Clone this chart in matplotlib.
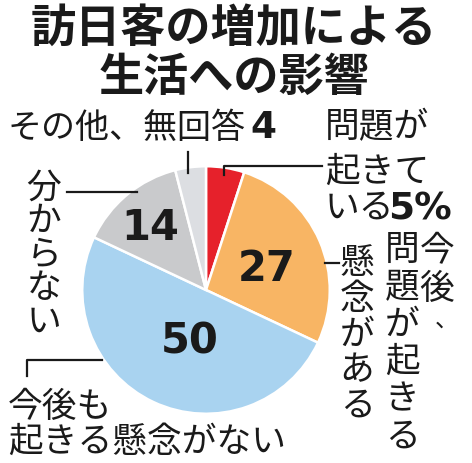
import matplotlib.pyplot as plt
import numpy as np

plt.rcParams['font.family'] = ['Noto Sans CJK JP', 'DejaVu Sans']

# data, clockwise from 12 o'clock
labels = ['問題が起きている', '今後、問題が起きる懸念がある', '今後も起きる懸念がない',
          '分からない', 'その他、無回答']
values = [5, 27, 50, 14, 4]
colors = ['#e6212b', '#f8b564', '#a9d3f0', '#c9cacc', '#dcdee2']

W, H = 472, 463
fig = plt.figure(figsize=(W / 100, H / 100), dpi=100)

# pie centre / radius in pixels (from top-left)
cx, cy, r = 206, 290, 125


def px(x, y):
    # pixel coords (origin top-left) -> figure fraction
    return x / W, 1 - y / H


def txt(x, y, s, size=25, weight='normal', **kw):
    fig.text(*px(x, y), s, fontsize=size, fontweight=weight,
             ha=kw.pop('ha', 'center'), va=kw.pop('va', 'center'),
             color=kw.pop('color', '#1a1a1a'), **kw)


def vtxt(x, y0, s, step, size=25):
    # vertical writing, one char at a time
    for i, ch in enumerate(s):
        if ch == '、':
            # vertical comma sits in the upper right of its cell
            txt(x + 10, y0 + i * step - 6, ch, 17, va='center')
        else:
            txt(x, y0 + i * step, ch, size)


def line(xs, ys):
    fx = [x / W for x in xs]
    fy = [1 - y / H for y in ys]
    fig.add_artist(plt.Line2D(fx, fy, color='#1a1a1a', lw=1.6,
                              transform=fig.transFigure))


ax = fig.add_axes([(cx - r) / W, (H - cy - r) / H, 2 * r / W, 2 * r / H])
ax.pie(values, colors=colors, startangle=90, counterclock=False,
       wedgeprops=dict(edgecolor='white', linewidth=1.8))
ax.set_xlim(-1.01, 1.01)
ax.set_ylim(-1.01, 1.01)
ax.set_aspect('equal')
ax.axis('off')

# title
txt(234, 29, '訪日客の増加による', 32.5, 'bold')
txt(234, 78, '生活への影響', 32.5, 'bold')

# numbers inside slices
num_kw = dict(size=30, weight='bold', family=['DejaVu Sans'])
txt(267, 269, str(values[1]), **num_kw)
txt(190, 341, str(values[2]), **num_kw)
txt(150, 228, str(values[3]), **num_kw)

# 問題が起きている 5%
txt(325, 128, '問題が', ha='left')
txt(325, 172, '起きて', ha='left')
txt(325, 208, 'いる', ha='left')
txt(388, 210, f'{values[0]}%', 27, 'bold', ha='left', family=['DejaVu Sans'])
line([224, 224, 322], [175, 166, 166])

# その他、無回答 4
txt(8, 128, 'その他、無回答', 24.5, ha='left')
txt(250, 128, str(values[4]), 27, 'bold', ha='left', family=['DejaVu Sans'])
line([188, 188], [152, 173])

# 分からない
vtxt(44, 188, '分からない', 33.5)
line([67, 137], [192, 192])

# 今後、問題が起きる懸念がある (vertical, right to left)
vtxt(437, 252, '今後、', 37)
vtxt(402, 250, '問題が起きる', 37.5)
vtxt(357, 264, '懸念がある', 35.5)
line([325, 339], [263, 263])

# 今後も起きる懸念がない
txt(8, 408, '今後も', ha='left')
txt(8, 442, '起きる懸念がない', ha='left')
line([27, 27, 102], [376, 360, 360])

fig.savefig('out.png', dpi=100)
